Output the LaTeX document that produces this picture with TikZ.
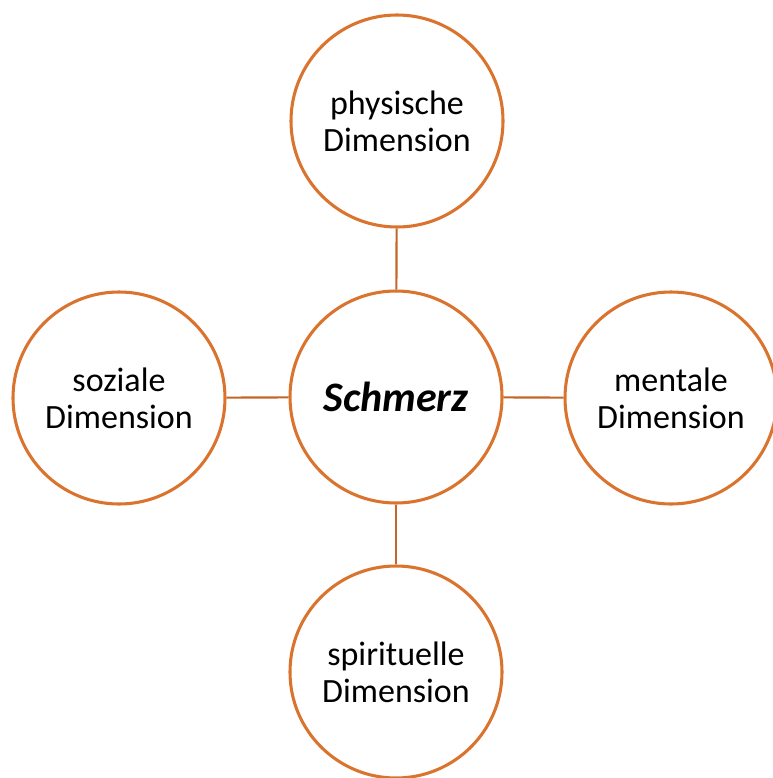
\documentclass[tikz,border=0pt]{standalone}
\usepackage{fontspec}
\setmainfont{Carlito}
\definecolor{ringorange}{HTML}{D9732E}
\tikzset{
  dimcircle/.style={circle, draw=ringorange, line width=2.3pt, minimum size=159pt,
    inner sep=0pt, align=center, font=\fontsize{25.5}{28}\selectfont},
  link/.style={draw=ringorange!90!black, line width=1.6pt}
}
\begin{document}
\begin{tikzpicture}[x=0.75pt,y=-0.75pt]
		\useasboundingbox (0,0) rectangle (772,778);
		\node[dimcircle, font=\fontsize{31.5}{34}\selectfont\bfseries\itshape] (schmerz) at (396,397) {Schmerz};
		\node[dimcircle] (physisch) at (397,121) {physische\\Dimension};
		\node[dimcircle] (sozial) at (119,398) {soziale\\Dimension};
		\node[dimcircle] (mental) at (671,398) {mentale\\Dimension};
		\node[dimcircle] (spirituell) at (396,672) {spirituelle\\Dimension};
		\draw[link] (physisch) -- (schmerz);
		\draw[link] (sozial) -- (schmerz);
		\draw[link] (schmerz) -- (mental);
		\draw[link] (schmerz) -- (spirituell);
\end{tikzpicture}
\end{document}
